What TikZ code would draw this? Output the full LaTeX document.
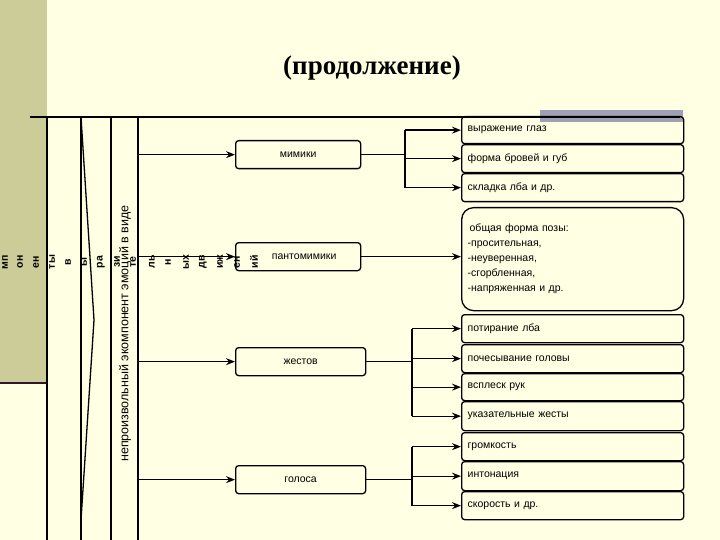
\documentclass[tikz,border=0pt]{standalone}
\usepackage{fontspec}
\setmainfont{Liberation Sans}
\newfontfamily\titlefont{Liberation Serif}
\usetikzlibrary{arrows.meta}
\definecolor{bg}{RGB}{255,255,228}
\definecolor{olive}{RGB}{204,204,153}
\definecolor{grayb}{RGB}{160,160,180}
\definecolor{purp}{RGB}{50,20,50}
\begin{document}
\begin{tikzpicture}[x=1pt,y=-1pt,
  box/.style={draw,line width=1.3pt,rounded corners=3pt,anchor=north west,inner sep=0pt,font=\fontsize{10.5}{11}\selectfont},
  arr/.style={line width=1.3pt,-{Stealth[length=9pt,width=7pt,inset=3pt]}},
  frag/.style={rotate=90,font=\bfseries\fontsize{10.5}{11}\selectfont,inner sep=0pt}]
\fill[bg] (0,0) rectangle (720,540);
\useasboundingbox (0,0) rectangle (720,540);
\fill[olive] (0,0) rectangle (47,383);
\draw[purp,line width=2pt] (0,383) -- (47,383);
\fill[grayb] (540,110) rectangle (683,122);
\node[anchor=center,font=\titlefont\bfseries\fontsize{27}{30}\selectfont] (title) at (372,68) {(продолжение)};
% left structure
\coordinate (tl) at (30,117);
\coordinate (tr) at (680,117);
\draw[line width=1.3pt] (tl) -- (tr);
\draw[line width=1.3pt] (47,117) -- (47,540);
\draw[line width=2.5pt] (81,117) -- (81,540);
\draw[line width=1.3pt,line join=miter] (81,117) -- (94,320) -- (81,520);
\draw[line width=1.3pt] (111,117) -- (111,540);
\draw[line width=1.3pt] (138,117) -- (138,540);
\node[rotate=90,font=\fontsize{12.5}{13}\selectfont,anchor=west,inner sep=0pt] (vt) at (125,462) {непроизвольный экомпонент эмоций в виде};
\foreach \t/\x in {мп/5,он/20,ен/36,ты/52,в/68,ы/84,ра/101,зи/117,те/133,ль/152,н/168,ых/186,дв/203,иж/220,ен/237,ий/254}
  \node[frag] at (\x,262) {\t};
% middle boxes
\node[box,minimum width=125pt,minimum height=28pt] (mim) at (235,140) {мимики};
\node[box,minimum width=125pt,minimum height=28pt] (pan) at (235,242) {\hspace*{12pt}пантомимики};
\node[box,minimum width=130pt,minimum height=28pt] (zhe) at (235,347) {жестов};
\node[box,minimum width=130pt,minimum height=28pt] (gol) at (235,465) {голоса};
\foreach \n in {mim,pan,zhe,gol} \draw[arr] (138,0 |- \n.west) -- (\n.west);
% right boxes
\tikzset{rb/.style={box,minimum width=222pt,text width=210pt,align=left,inner xsep=6pt}}
\node[rb,minimum height=27pt] (r1) at (461,116) {выражение глаз};
\node[rb,minimum height=28pt] (r2) at (461,144) {форма бровей и губ};
\node[rb,minimum height=28pt] (r3) at (461,173) {складка лба и др.};
\node[rb,minimum height=103pt,rounded corners=12pt,font=\fontsize{10.5}{15}\selectfont] (r4) at (461,207) {\hspace*{2pt}общая форма позы:\\-просительная,\\-неуверенная,\\-сгорбленная,\\-напряженная и др.};
\node[rb,minimum height=28pt] (r5) at (461,314) {потирание лба};
\node[rb,minimum height=28pt] (r6) at (461,344) {почесывание головы};
\node[rb,minimum height=27pt] (r7) at (461,373) {всплеск рук};
\node[rb,minimum height=29pt] (r8) at (461,401) {указательные жесты};
\node[rb,minimum height=28pt] (r9) at (461,432) {громкость};
\node[rb,minimum height=29pt] (r10) at (461,461) {интонация};
\node[rb,minimum height=28pt] (r11) at (461,491) {скорость и др.};
\draw[line width=1.3pt] (mim.east) -- (405,0 |- mim.east);
\draw[line width=1.3pt] (405,0 |- r1.west) -- (405,0 |- r3.west);
\foreach \n in {r1,r2,r3} \draw[arr] (405,0 |- \n.west) -- (\n.west);
\draw[arr] (pan.east) -- (pan.east -| r4.west);
\draw[line width=1.3pt] (zhe.east) -- (412,0 |- zhe.east);
\draw[line width=1.3pt] (412,0 |- r5.west) -- (412,0 |- r8.west);
\foreach \n in {r5,r6,r7,r8} \draw[arr] (412,0 |- \n.west) -- (\n.west);
\draw[line width=1.3pt] (gol.east) -- (412,0 |- gol.east);
\draw[line width=1.3pt] (412,0 |- r9.west) -- (412,0 |- r11.west);
\foreach \n in {r9,r10,r11} \draw[arr] (412,0 |- \n.west) -- (\n.west);
\end{tikzpicture}
\end{document}
